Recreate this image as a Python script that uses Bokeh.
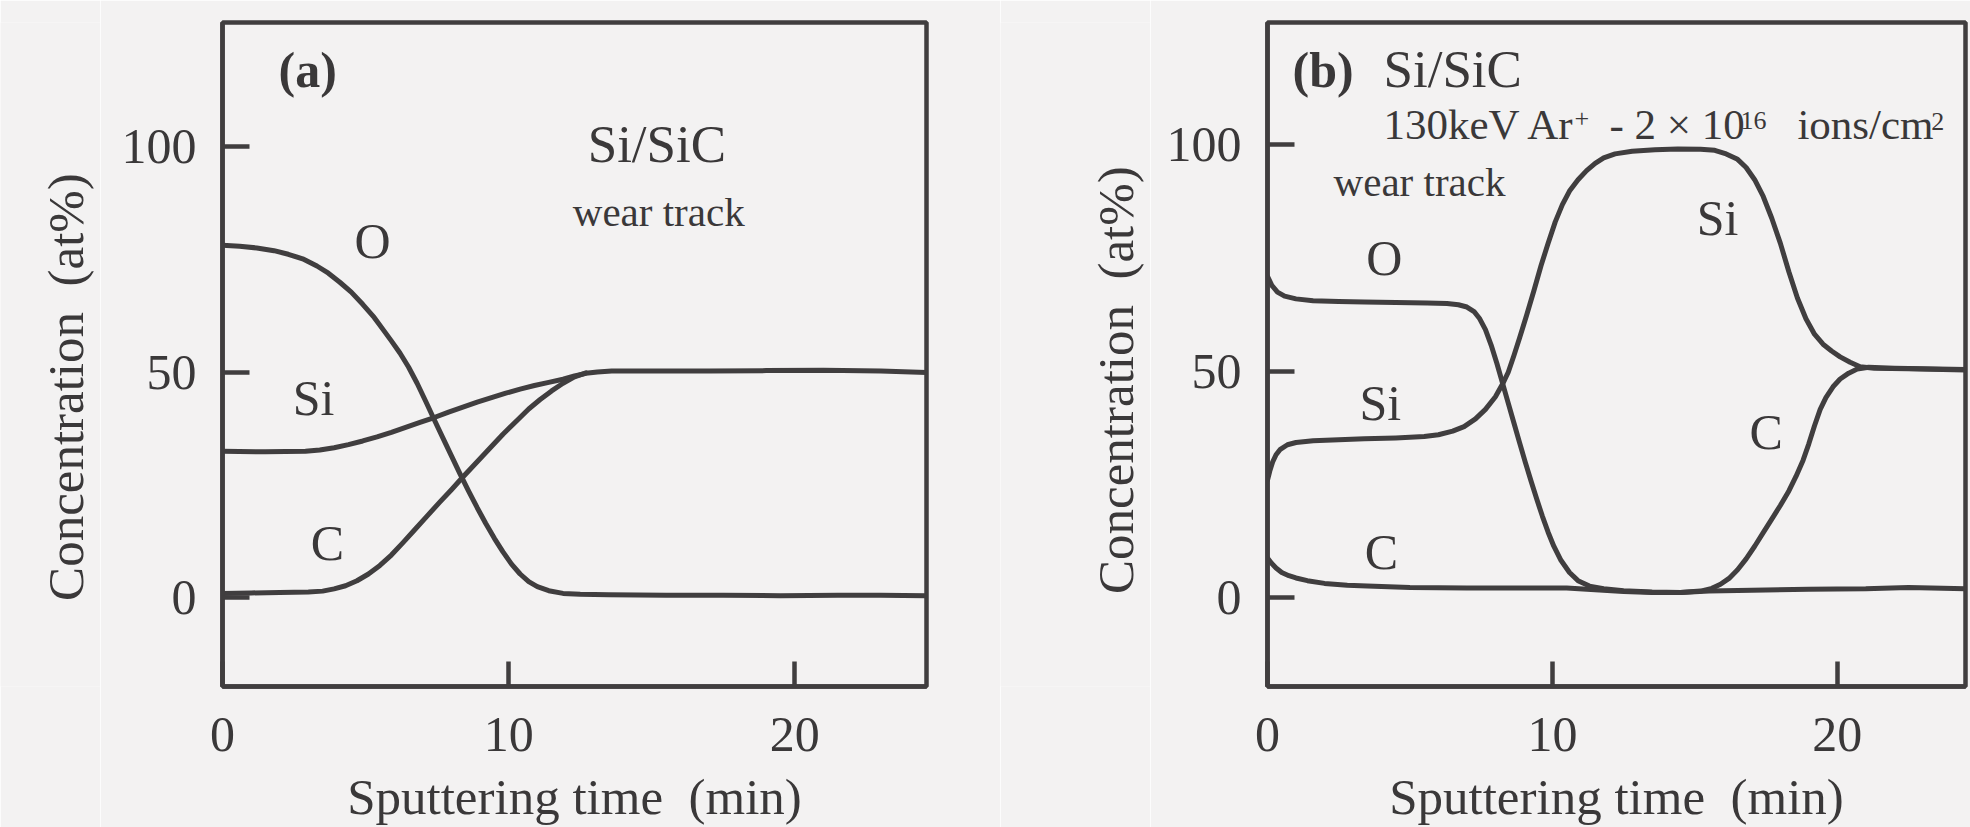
from math import pi

from bokeh.plotting import figure
from bokeh.layouts import row
from bokeh.models import Range1d, FixedTicker, Label
from bokeh.core.properties import value
from bokeh.embed import file_html
from bokeh.resources import INLINE

# ---------------------------------------------------------------------------
# Depth profiles (concentration in at% versus sputtering time in min)
# ---------------------------------------------------------------------------
x_ticks = [0, 10, 20]
y_ticks = [0, 50, 100]

# (a) Si/SiC, wear track
a_O_t = [0, 0.6, 1.2, 1.8, 2.3, 2.8, 3.3, 3.7, 4.1, 4.5, 4.9, 5.3, 5.6, 5.9,
         6.2, 6.5, 6.8, 7.1, 7.4, 7.7, 8.0, 8.3, 8.6, 8.9, 9.2, 9.5, 9.8,
         10.1, 10.4, 10.7, 11.0, 11.4, 11.9, 12.5, 13.5, 15.5, 17.5, 19.5,
         21.5, 23.0, 24.6]
a_O_c = [78.2, 78.0, 77.6, 77.0, 76.2, 75.2, 73.6, 72.0, 70.0, 67.8, 65.1,
         62.2, 59.6, 57.0, 54.3, 51.2, 47.6, 43.6, 39.5, 35.5, 31.5, 27.5,
         23.7, 20.0, 16.5, 13.2, 10.2, 7.5, 5.3, 3.6, 2.5, 1.6, 1.0, 0.8,
         0.7, 0.6, 0.6, 0.5, 0.6, 0.6, 0.5]

a_Si_t = [0, 1.5, 2.9, 3.4, 3.9, 4.4, 4.9, 5.4, 5.9, 6.4, 6.9, 7.4, 7.9, 8.4,
          8.9, 9.4, 9.9, 10.4, 10.9, 11.4, 11.9, 12.3, 12.7, 13.1, 13.6, 15,
          17, 19, 21, 23, 24.6]
a_Si_c = [32.5, 32.4, 32.5, 32.8, 33.3, 34.0, 34.8, 35.7, 36.7, 37.8, 38.9,
          40.0, 41.2, 42.3, 43.4, 44.4, 45.4, 46.3, 47.1, 47.8, 48.5, 49.2,
          49.8, 50.1, 50.3, 50.3, 50.3, 50.4, 50.5, 50.3, 50.0]

a_C_t = [0, 1, 2, 3, 3.5, 3.9, 4.3, 4.7, 5.1, 5.5, 5.9, 6.3, 6.7, 7.1, 7.6,
         8.0, 8.4, 8.9, 9.3, 9.8, 10.3, 10.7, 11.1, 11.5, 11.9, 12.3, 12.7]
a_C_c = [1.0, 1.1, 1.2, 1.3, 1.5, 2.0, 2.7, 3.8, 5.3, 7.2, 9.5, 12.2, 15.0,
         17.8, 21.3, 24.0, 26.8, 30.2, 32.9, 36.3, 39.4, 41.9, 44.0, 45.9,
         47.6, 49.0, 49.9]

# (b) Si/SiC, 130 keV Ar+ implanted, wear track
b_O_t = [0, 0.15, 0.35, 0.6, 1.0, 1.6, 2.5, 3.4, 4.5, 5.6, 6.3, 6.7, 7.0,
         7.25, 7.45, 7.65, 7.85, 8.05, 8.25, 8.45, 8.65, 8.85, 9.05, 9.25,
         9.45, 9.65, 9.85, 10.05, 10.3, 10.6, 10.9, 11.3, 11.8, 12.5, 13.5,
         14.5, 15.5, 17, 19, 21, 22.5, 24.5]
b_O_c = [71.0, 69.0, 67.5, 66.6, 66.0, 65.6, 65.4, 65.3, 65.2, 65.1, 65.0,
         64.7, 64.2, 63.2, 61.6, 59.2, 55.8, 51.8, 47.4, 43.0, 38.6, 34.2,
         29.9, 25.8, 21.8, 18.0, 14.5, 11.4, 8.3, 5.6, 3.8, 2.6, 2.0, 1.6,
         1.3, 1.2, 1.5, 1.7, 1.9, 2.0, 2.3, 2.0]

b_Si_t = [0, 0.08, 0.18, 0.3, 0.45, 0.7, 1.0, 1.6, 2.5, 3.4, 4.5, 5.5, 6.0,
          6.5, 6.9, 7.3, 7.65, 8.0, 8.25, 8.45, 8.65, 8.85, 9.1, 9.35, 9.6,
          9.85, 10.1, 10.35, 10.6, 10.9, 11.2, 11.5, 11.8, 12.2, 12.8, 13.6,
          14.4, 15.2, 15.7, 16.1, 16.5, 16.8, 17.1, 17.4, 17.7, 18.0, 18.3,
          18.6, 18.9, 19.2, 19.5, 19.8, 20.1, 20.45, 20.8, 21.3, 22.5, 24.5]
b_Si_c = [26.0, 28.0, 30.0, 31.6, 32.8, 33.8, 34.3, 34.7, 34.9, 35.1, 35.3,
          35.6, 36.0, 36.8, 37.8, 39.5, 41.6, 44.4, 47.2, 49.8, 53.5, 57.4,
          62.5, 67.8, 73.3, 78.3, 83.0, 86.8, 89.8, 92.3, 94.3, 95.9, 97.1,
          98.0, 98.6, 98.9, 99.1, 99.0, 98.8, 98.0, 96.8, 95.0, 92.3, 88.6,
          83.8, 78.3, 72.0, 66.2, 61.6, 58.2, 56.0, 54.5, 53.2, 52.0, 51.0,
          50.7, 50.6, 50.3]

b_C_t = [0, 0.15, 0.3, 0.5, 0.75, 1.0, 1.4, 2.0, 2.8, 3.5, 5, 7, 9, 10.5,
         11.5, 12.5, 13.5, 14.5, 15.2, 15.6, 15.9, 16.2, 16.5, 16.8, 17.1,
         17.4, 17.7, 18.0, 18.3, 18.55, 18.8, 19.0, 19.2, 19.4, 19.6, 19.85,
         20.1, 20.4, 20.7, 21.1, 22, 23.5, 24.5]
b_C_c = [8.8, 7.6, 6.6, 5.6, 4.9, 4.4, 3.8, 3.2, 2.8, 2.6, 2.3, 2.2, 2.2, 2.2,
         1.8, 1.4, 1.2, 1.2, 1.5, 2.1, 3.0, 4.3, 6.2, 8.6, 11.4, 14.4, 17.4,
         20.4, 23.6, 26.8, 30.4, 34.0, 38.0, 41.6, 44.2, 46.6, 48.3, 49.6,
         50.5, 50.9, 50.7, 50.5, 50.4]

X_TITLE = "Sputtering time\u00a0\u00a0(min)"
Y_TITLE = "Concentration\u00a0\u00a0(at%)"

# ---------------------------------------------------------------------------
FONT = "Liberation Serif"
INK = "#3a3839"
LINE = "#403e3f"
BG = "#f3f2f2"
LW = 5
H = 827
TOP, BOTTOM = 22, 138      # shared frame borders of every figure in the row
NUDGE = 0.36               # baseline correction of Label text, in em


def make_panel(width, left, right, x_end, y_start, y_end):
    p = figure(width=width, height=H, output_backend="svg",
               toolbar_location=None,
               x_range=Range1d(0, x_end), y_range=Range1d(y_start, y_end),
               min_border_left=left, min_border_right=right,
               min_border_top=TOP, min_border_bottom=BOTTOM)
    p.background_fill_color = BG
    p.border_fill_color = BG
    p.grid.visible = False
    p.outline_line_color = LINE
    p.outline_line_width = 4.5
    p.outline_line_alpha = 1.0
    for ax in (p.xaxis[0], p.yaxis[0]):
        ax.axis_line_color = LINE
        ax.axis_line_width = 4.5
        ax.major_tick_line_color = LINE
        ax.major_tick_line_width = 4.5
        ax.major_tick_out = 0
        ax.minor_tick_line_color = None
        ax.major_label_text_font = FONT
        ax.major_label_text_font_size = "50px"
        ax.major_label_text_color = INK
    p.xaxis.ticker = FixedTicker(ticks=x_ticks)
    p.yaxis.ticker = FixedTicker(ticks=y_ticks)
    p.xaxis.major_tick_in = 25
    p.yaxis.major_tick_in = 27
    p.xaxis.major_label_standoff = 31
    p.yaxis.major_label_standoff = 26
    p.xaxis.axis_label = X_TITLE
    p.xaxis.axis_label_text_font = FONT
    p.xaxis.axis_label_text_font_size = "51px"
    p.xaxis.axis_label_text_font_style = "normal"
    p.xaxis.axis_label_text_color = INK
    p.xaxis.axis_label_standoff = 15
    return p


def make_title_strip(width, x, y_px, text):
    """Narrow figure that only carries the rotated y-axis title, written
    upwards from y_px (pixels from the top edge).  Its frame lines up with
    the neighbouring panels, so the range is given in page pixels."""
    s = figure(width=width, height=H, output_backend="svg",
               toolbar_location=None, x_axis_type=None, y_axis_type=None,
               x_range=Range1d(0, width),
               y_range=Range1d(BOTTOM, H - TOP),
               min_border_left=0, min_border_right=0,
               min_border_top=TOP, min_border_bottom=BOTTOM)
    s.grid.visible = False
    s.outline_line_color = None
    s.background_fill_color = BG
    s.border_fill_color = BG
    s.text(x=[x], y=[H - y_px], text=[text], angle=pi / 2,
           text_font=value(FONT), text_font_size="51px", text_color=INK,
           text_align="left", text_baseline="alphabetic")
    return s


def add_text(p, ppu, x, y, text, size=50, align="left", bold=False):
    p.add_layout(Label(x=x, y=y + NUDGE * size / ppu, text=text,
                       text_font=FONT, text_font_size=f"{size}px",
                       text_color=INK, text_align=align,
                       text_baseline="alphabetic",
                       text_font_style="bold" if bold else "normal"))


def draw_curves(p, series):
    for t, c in series:
        p.line(t, c, line_color=LINE, line_width=LW, line_join="round",
               line_cap="round")


# ---- panel (a) ----
PPU_A = 4.53
pa = make_panel(900, 122, 74, 24.6, -19.65, 127.6)
draw_curves(pa, [(a_O_t, a_O_c), (a_Si_t, a_Si_c), (a_C_t, a_C_c)])
add_text(pa, PPU_A, 1.96, 113.0, "(a)", bold=True)
add_text(pa, PPU_A, 12.76, 96.5, "Si/SiC", size=53)
add_text(pa, PPU_A, 12.24, 82.3, "wear track", size=41)
add_text(pa, PPU_A, 5.24, 75.1, "O", align="center")
add_text(pa, PPU_A, 3.18, 40.4, "Si", align="center")
add_text(pa, PPU_A, 3.67, 8.2, "C", align="center")

# ---- panel (b) ----
PPU_B = 4.55
pb = make_panel(820, 117, 5, 24.5, -19.56, 127.0)
draw_curves(pb, [(b_O_t, b_O_c), (b_Si_t, b_Si_c), (b_C_t, b_C_c)])
add_text(pb, PPU_B, 0.88, 112.5, "(b)", bold=True)
add_text(pb, PPU_B, 4.07, 112.5, "Si/SiC", size=53)
# implantation condition, with raised superscripts
add_text(pb, PPU_B, 4.07, 101.1, "130keV Ar", size=43)
add_text(pb, PPU_B, 10.78, 103.7, "+", size=26)
add_text(pb, PPU_B, 12.0, 101.1, "- 2 \u00d7 10", size=43)
add_text(pb, PPU_B, 16.6, 103.3, "16", size=26)
add_text(pb, PPU_B, 18.6, 101.1, "ions/cm", size=43)
add_text(pb, PPU_B, 23.3, 103.1, "2", size=26)
add_text(pb, PPU_B, 2.32, 88.6, "wear track", size=41)
add_text(pb, PPU_B, 4.1, 71.0, "O", align="center")
add_text(pb, PPU_B, 3.96, 39.1, "Si", align="center")
add_text(pb, PPU_B, 4.0, 6.2, "C", align="center")
add_text(pb, PPU_B, 15.8, 79.8, "Si", align="center")
add_text(pb, PPU_B, 17.5, 32.7, "C", align="center")

# ---- y-axis titles ----
ya = make_title_strip(100, 65, 603, Y_TITLE)
yb = make_title_strip(150, 115, 596, Y_TITLE)

layout = row(ya, pa, yb, pb)

with open("out.html", "w") as f:
    f.write(file_html(layout, INLINE))
